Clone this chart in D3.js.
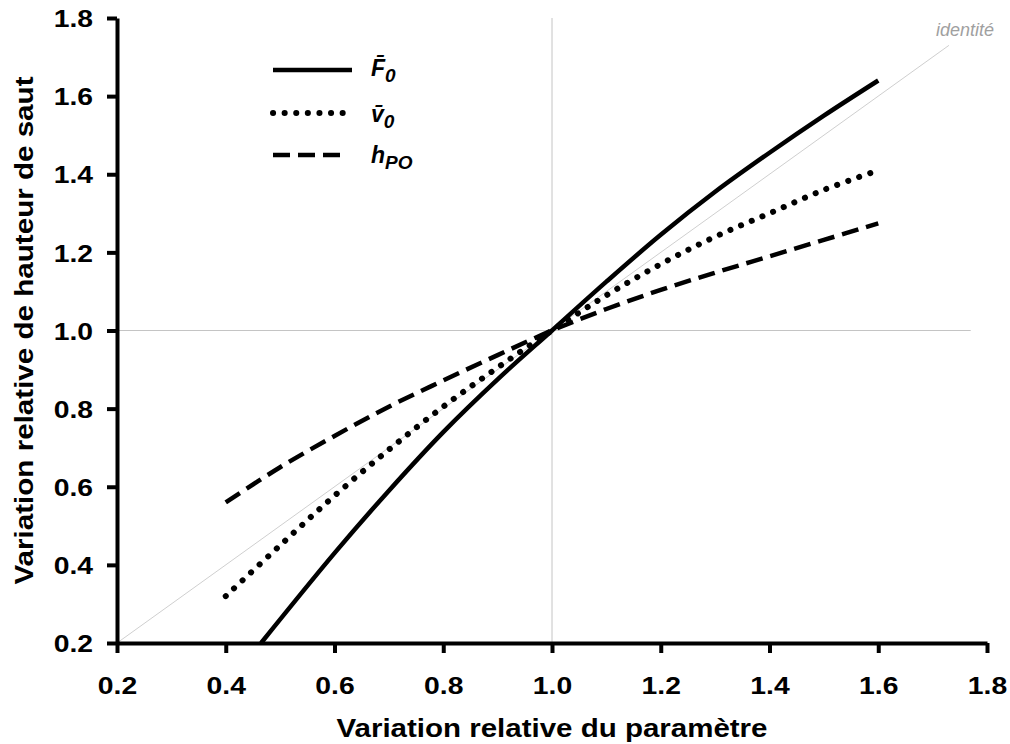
<!DOCTYPE html>
<html>
<head>
<meta charset="utf-8">
<script src="https://cdn.jsdelivr.net/npm/d3@7"></script>
<style>
  body { margin: 0; background: #fff; }
  svg { font-family: "Liberation Sans", Arial, sans-serif; }
</style>
</head>
<body>
<svg></svg>
<script>
// values
const xF0 = [0.465, 0.6, 0.7, 0.8, 0.9, 1.0, 1.1, 1.2, 1.3, 1.4, 1.5, 1.6];
const yF0 = [0.2, 0.43, 0.59, 0.74, 0.875, 1.0, 1.125, 1.245, 1.355, 1.455, 1.55, 1.64];
const xV0 = [0.4, 0.5, 0.6, 0.7, 0.8, 0.9, 1.0, 1.1, 1.2, 1.3, 1.4, 1.5, 1.6];
const yV0 = [0.32, 0.45, 0.577, 0.695, 0.805, 0.905, 1.0, 1.09, 1.17, 1.24, 1.30, 1.36, 1.41];
const xHpo = [0.4, 0.5, 0.6, 0.7, 0.8, 0.9, 1.0, 1.1, 1.2, 1.3, 1.4, 1.5, 1.6];
const yHpo = [0.56, 0.65, 0.73, 0.805, 0.872, 0.937, 1.0, 1.055, 1.104, 1.148, 1.19, 1.232, 1.274];
const identityLine = [0.2, 1.73];
const xTicks = [0.2, 0.4, 0.6, 0.8, 1.0, 1.2, 1.4, 1.6, 1.8];
const yTicks = [0.2, 0.4, 0.6, 0.8, 1.0, 1.2, 1.4, 1.6, 1.8];

window.onload = function() {
    const width = 1010, height = 744;
    const margin = {top: 18, right: 23, bottom: 101, left: 117};
    const stretch = 1.18; // the reference text is a bit wider than Arial

    const svg = d3.select("svg")
        .attr("width", width)
        .attr("height", height);

    const x = d3.scaleLinear().domain([0.2, 1.8]).range([margin.left, width - margin.right]);
    const y = d3.scaleLinear().domain([0.2, 1.8]).range([height - margin.bottom, margin.top]);

    // reference lines
    svg.append("line")
        .attr("x1", x(0.2)).attr("x2", x(1.77))
        .attr("y1", y(1.0)).attr("y2", y(1.0))
        .attr("stroke", "#c4c4c4").attr("stroke-width", 1);
    svg.append("line")
        .attr("x1", x(1.0)).attr("x2", x(1.0))
        .attr("y1", y(0.2)).attr("y2", y(1.8))
        .attr("stroke", "#c4c4c4").attr("stroke-width", 1);
    svg.append("line")
        .attr("x1", x(identityLine[0])).attr("y1", y(identityLine[0]))
        .attr("x2", x(identityLine[1])).attr("y2", y(identityLine[1]))
        .attr("stroke", "#cfcfcf").attr("stroke-width", 1);
    svg.append("text")
        .attr("x", 965).attr("y", 36)
        .attr("text-anchor", "middle")
        .attr("font-style", "italic")
        .attr("font-size", 18)
        .attr("fill", "#a0a0a0")
        .text("identité");

    // curves
    const line = d3.line()
        .x(d => x(d[0]))
        .y(d => y(d[1]))
        .curve(d3.curveCatmullRom);

    const series = [
        {name: "F0", xs: xF0, ys: yF0, width: 4.5, dash: null, cap: "butt"},
        {name: "v0", xs: xV0, ys: yV0, width: 6, dash: "0.1 11.5", cap: "round"},
        {name: "hPO", xs: xHpo, ys: yHpo, width: 4.5, dash: "17 8", cap: "butt"}
    ];

    series.forEach(function(s) {
        svg.append("path")
            .datum(s.xs.map((v, i) => [v, s.ys[i]]))
            .attr("d", line)
            .attr("fill", "none")
            .attr("stroke", "#000")
            .attr("stroke-width", s.width)
            .attr("stroke-linecap", s.cap)
            .attr("stroke-dasharray", s.dash);
    });

    // axes
    const xAxis = svg.append("g")
        .attr("transform", "translate(0," + y(0.2) + ")")
        .call(d3.axisBottom(x).tickValues(xTicks).tickFormat(d3.format(".1f")).tickSize(10).tickSizeOuter(0));
    const yAxis = svg.append("g")
        .attr("transform", "translate(" + x(0.2) + ",0)")
        .call(d3.axisLeft(y).tickValues(yTicks).tickFormat(d3.format(".1f")).tickSize(10).tickSizeOuter(0));

    [xAxis, yAxis].forEach(function(g) {
        g.select(".domain").attr("stroke-width", 4).attr("stroke", "#000");
        g.selectAll(".tick line").attr("stroke-width", 4).attr("stroke", "#000");
        g.selectAll(".tick text")
            .attr("font-family", "'Liberation Sans', Arial, sans-serif")
            .attr("font-weight", "bold")
            .attr("font-size", 24)
            .attr("fill", "#000")
            .attr("transform", "scale(" + stretch + ",1)");
    });
    xAxis.selectAll(".tick text").attr("y", 51).attr("dy", null);
    yAxis.selectAll(".tick text").attr("x", -24 / stretch).attr("dy", "0.36em");

    svg.append("text")
        .attr("x", x(1.0)).attr("y", 737)
        .attr("text-anchor", "middle")
        .attr("font-weight", "bold")
        .attr("font-size", 25)
        .attr("textLength", 431)
        .attr("lengthAdjust", "spacingAndGlyphs")
        .text("Variation relative du paramètre");

    svg.append("text")
        .attr("transform", "translate(33," + y(1.0) + ") rotate(-90)")
        .attr("text-anchor", "middle")
        .attr("font-weight", "bold")
        .attr("font-size", 25)
        .attr("textLength", 508)
        .attr("lengthAdjust", "spacingAndGlyphs")
        .text("Variation relative de hauteur de saut");

    // legend
    const legend = svg.append("g");
    const legendRows = [
        {s: series[0], main: "F\u0304", sub: "0", yPos: 70, base: 76},
        {s: series[1], main: "v\u0304", sub: "0", yPos: 113, base: 122},
        {s: series[2], main: "h", sub: "PO", yPos: 155, base: 163}
    ];
    legendRows.forEach(function(r) {
        legend.append("line")
            .attr("x1", 273).attr("x2", r.s.dash ? 348 : 352)
            .attr("y1", r.yPos).attr("y2", r.yPos)
            .attr("stroke", "#000")
            .attr("stroke-width", r.s.width)
            .attr("stroke-linecap", r.s.cap)
            .attr("stroke-dasharray", r.s.dash);
        const t = legend.append("text")
            .attr("x", 371).attr("y", r.base)
            .attr("font-style", "italic")
            .attr("font-weight", "bold")
            .attr("font-size", 23);
        t.append("tspan").text(r.main);
        t.append("tspan")
            .attr("dy", 6)
            .attr("font-size", 19)
            .text(r.sub);
    });
};
</script>
</body>
</html>
